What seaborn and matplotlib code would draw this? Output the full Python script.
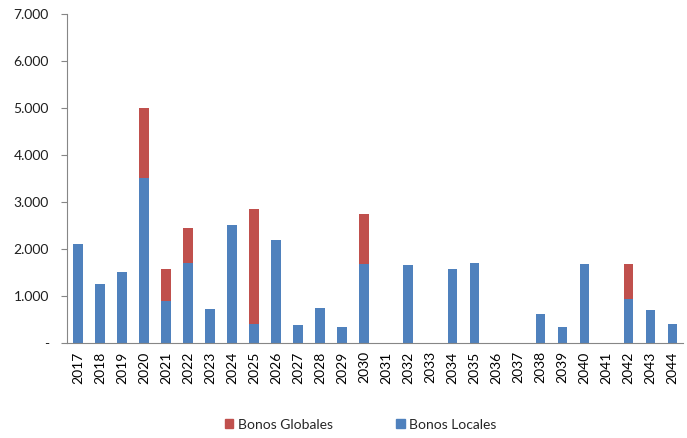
import numpy as np
import pandas as pd
import matplotlib
matplotlib.use('Agg')
import matplotlib.pyplot as plt
import seaborn as sns
from matplotlib.ticker import FuncFormatter, FixedLocator
from matplotlib.patches import Patch

years = [str(y) for y in range(2017, 2045)]
bonos_locales = [2100, 1250, 1520, 3500, 900, 1700, 720, 2500, 400, 2190,
                 380, 750, 350, 1690, 0, 1660, 0, 1580, 1710, 0,
                 0, 620, 350, 1690, 0, 930, 700, 410]
bonos_globales = [0, 0, 0, 1500, 670, 750, 0, 0, 2450, 0,
                  0, 0, 0, 1060, 0, 0, 0, 0, 0, 0,
                  0, 0, 0, 0, 0, 760, 0, 0]

red = '#C0504D'
blue = '#4F81BD'
grey = '#868686'


def main():
    df = pd.DataFrame({'year': years, 'locales': bonos_locales, 'globales': bonos_globales})
    df['total'] = df['locales'] + df['globales']

    sns.set_style('white')
    plt.rcParams['font.family'] = ['Lato', 'DejaVu Sans']

    fig = plt.figure(figsize=(6.87, 4.38), dpi=100)
    ax = fig.add_axes([0.0975, 0.217, 0.897, 0.751])

    sns.barplot(data=df, x='year', y='total', color=red, width=0.42,
                saturation=1, ax=ax, edgecolor='none')
    sns.barplot(data=df, x='year', y='locales', color=blue, width=0.42,
                saturation=1, ax=ax, edgecolor='none')

    ax.set_xlim(-0.5, len(years) - 0.5)
    ax.set_ylim(0, 7000)
    ax.set_yticks(np.arange(0, 7001, 1000))
    ax.yaxis.set_major_formatter(FuncFormatter(
        lambda v, p: '-' if v == 0 else f'{int(v):,}'.replace(',', '.')))

    ax.set_xticks(range(len(years)))
    ax.set_xticklabels(years, rotation=90)
    ax.xaxis.set_minor_locator(FixedLocator(np.arange(-0.5, len(years), 1)))
    ax.tick_params(axis='x', which='major', length=0, pad=6, labelsize=10, colors='black')
    ax.tick_params(axis='x', which='minor', length=4, color=grey, width=0.8, direction='out')
    ax.tick_params(axis='y', length=4, color=grey, width=0.8, direction='out',
                   labelsize=10, pad=9, labelcolor='#1f1f1f', left=True)

    for s in ['top', 'right']:
        ax.spines[s].set_visible(False)
    for s in ['left', 'bottom']:
        ax.spines[s].set_color(grey)
        ax.spines[s].set_linewidth(0.8)

    ax.set_xlabel('')
    ax.set_ylabel('')

    handles = [Patch(color=red, label='Bonos Globales'),
               Patch(color=blue, label='Bonos Locales')]
    fig.legend(handles=handles, loc='lower center', ncol=2, frameon=False,
               bbox_to_anchor=(0.525, -0.012), fontsize=10, handlelength=0.6,
               handleheight=0.6, handletextpad=0.3, columnspacing=4.6)

    plt.savefig('out.png', dpi=100)
    plt.close()


if __name__ == "__main__":
    main()
